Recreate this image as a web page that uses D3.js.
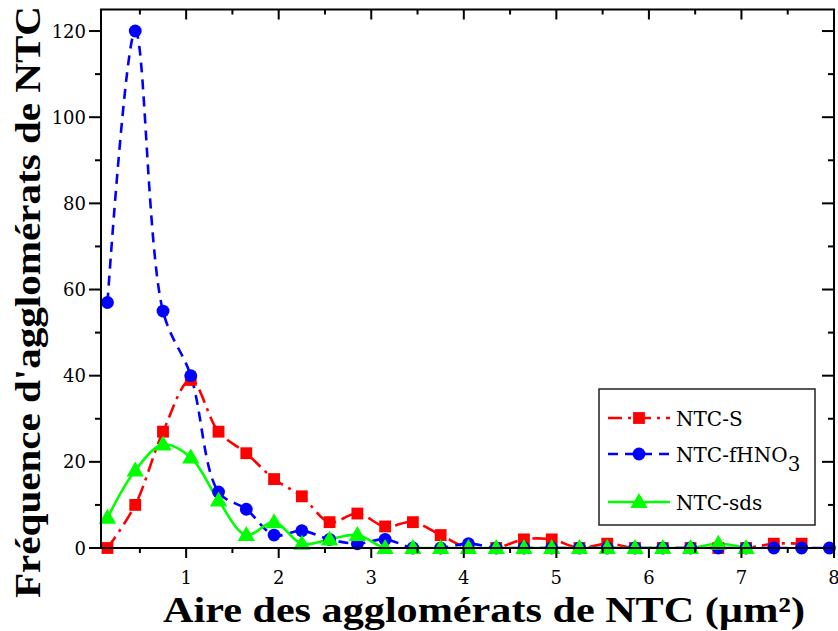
<!DOCTYPE html>
<html>
<head>
<meta charset="utf-8">
<script src="https://cdn.jsdelivr.net/npm/d3@7"></script>
<style>
body { margin: 0; background: #fff; }
svg { display: block; }
</style>
</head>
<body>
<svg id="chart"></svg>
<script>
// x positions (µm²) of the histogram bins
var xBins = [0.15, 0.45, 0.75, 1.05, 1.35, 1.65, 1.95, 2.25, 2.55, 2.85, 3.15, 3.45, 3.75, 4.05,
             4.35, 4.65, 4.95, 5.25, 5.55, 5.85, 6.15, 6.45, 6.75, 7.05, 7.35, 7.65, 7.95];
var ntcS    = [0, 10, 27, 39, 27, 22, 16, 12, 6, 8, 5, 6, 3, 0, 0, 2, 2, 0, 1, 0, 0, 0, 0, 0, 1, 1];
var ntcHNO3 = [57, 120, 55, 40, 13, 9, 3, 4, 2, 1, 2, 0, 0, 1, 0, 0, 0, 0, 0, 0, 0, 0, 0, 0, 0, 0, 0];
var ntcSds  = [7, 18, 24, 21, 11, 3, 6, 1, 2, 3, 0, 0, 0, 0, 0, 0, 0, 0, 0, 0, 0, 0, 1, 0];
var xTicks = [1, 2, 3, 4, 5, 6, 7, 8];
var yTicks = [0, 20, 40, 60, 80, 100, 120];

var serif = '"Liberation Serif", "DejaVu Serif", serif';
var serifLight = '"DejaVu Serif", serif';
var W = 838, H = 631;
var svg = d3.select('#chart').attr('width', W).attr('height', H);

var x = d3.scaleLinear().domain([0.08, 8]).range([101, 834]);
var y = d3.scaleLinear().domain([0, 125]).range([548, 9.5]);

var series = [
    {name: 'NTC-S', values: ntcS, color: '#ff0000', dash: '14,6,3,6', shape: 'square'},
    {name: 'NTC-fHNO', sub: '3', values: ntcHNO3, color: '#0000ff', dash: '10,7', shape: 'circle'},
    {name: 'NTC-sds', values: ntcSds, color: '#00ff00', dash: null, shape: 'triangle'}
];

svg.append('clipPath').attr('id', 'plotclip').append('rect')
    .attr('x', 101).attr('y', 9.5).attr('width', 733).attr('height', 538.5);

var line = d3.line()
    .x(function(d) { return x(d[0]); })
    .y(function(d) { return y(d[1]); })
    .curve(d3.curveCatmullRom.alpha(0.5));

var symbolFor = function(shape) {
    if (shape === 'square') return d3.symbol().type(d3.symbolSquare).size(140)();
    if (shape === 'circle') return d3.symbol().type(d3.symbolCircle).size(130)();
    return d3.symbol().type(d3.symbolTriangle).size(130)();
};

var plot = svg.append('g').attr('clip-path', 'url(#plotclip)');
series.forEach(function(s) {
    var pts = s.values.map(function(v, i) { return [xBins[i], v]; });
    plot.append('path').attr('d', line(pts))
        .attr('fill', 'none').attr('stroke', s.color).attr('stroke-width', 2.6)
        .attr('stroke-dasharray', s.dash);
});
series.forEach(function(s) {
    var pts = s.values.map(function(v, i) { return [xBins[i], v]; });
    svg.append('g').selectAll('path').data(pts).enter().append('path')
        .attr('transform', function(d) { return 'translate(' + x(d[0]) + ',' + (y(d[1]) + (s.shape === 'triangle' ? 1 : 0)) + ')'; })
        .attr('d', symbolFor(s.shape))
        .attr('fill', s.color);
});

// frame and ticks
var axes = svg.append('g').attr('stroke', '#000').attr('stroke-width', 2);
axes.append('rect').attr('x', 101).attr('y', 9.5).attr('width', 733).attr('height', 538.5).attr('fill', 'none');

d3.range(0.5, 8.01, 0.5).forEach(function(v) {
    var major = Math.abs(v - Math.round(v)) < 1e-6;
    var len = major ? 10 : 5;
    axes.append('line').attr('x1', x(v)).attr('x2', x(v)).attr('y1', 548).attr('y2', 548 + len);
    axes.append('line').attr('x1', x(v)).attr('x2', x(v)).attr('y1', 9.5).attr('y2', 9.5 + len);
});
d3.range(0, 121, 10).forEach(function(v) {
    var major = v % 20 === 0;
    var len = major ? 12 : 6;
    axes.append('line').attr('x1', 101).attr('x2', 101 - len).attr('y1', y(v)).attr('y2', y(v));
    axes.append('line').attr('x1', 834).attr('x2', 834 - len).attr('y1', y(v)).attr('y2', y(v));
});

svg.append('g').selectAll('text').data(xTicks).enter().append('text')
    .attr('font-family', serifLight).attr('font-size', 18)
    .attr('x', function(d) { return x(d); }).attr('y', 584)
    .attr('text-anchor', 'middle').text(function(d) { return d; });
svg.append('g').selectAll('text').data(yTicks).enter().append('text')
    .attr('font-family', serifLight).attr('font-size', 18)
    .attr('x', 86).attr('y', function(d) { return y(d) + 6.5; })
    .attr('text-anchor', 'end').text(function(d) { return d; });

svg.append('text').attr('font-family', serif).attr('font-weight', 'bold').attr('font-size', 35)
    .attr('x', 484).attr('y', 622).attr('text-anchor', 'middle')
    .attr('textLength', 642).attr('lengthAdjust', 'spacingAndGlyphs')
    .text('Aire des agglomérats de NTC (µm²)');
svg.append('text').attr('font-family', serif).attr('font-weight', 'bold').attr('font-size', 35)
    .attr('transform', 'translate(40,302) rotate(-90)').attr('text-anchor', 'middle')
    .attr('textLength', 592).attr('lengthAdjust', 'spacingAndGlyphs')
    .text("Fréquence d'agglomérats de NTC");

// legend
var legend = svg.append('g');
legend.append('rect').attr('x', 599).attr('y', 389).attr('width', 216).attr('height', 136)
    .attr('fill', '#fff').attr('stroke', '#222').attr('stroke-width', 1.5);
var legendY = [418, 454, 502];
series.forEach(function(s, i) {
    var ly = legendY[i];
    legend.append('line').attr('x1', 608).attr('x2', 670).attr('y1', ly).attr('y2', ly)
        .attr('stroke', s.color).attr('stroke-width', 2.6).attr('stroke-dasharray', s.dash);
    legend.append('path').attr('transform', 'translate(639,' + (ly + (s.shape === 'triangle' ? 1 : 0)) + ')')
        .attr('d', symbolFor(s.shape)).attr('fill', s.color);
    var t = legend.append('text').attr('font-family', serifLight).attr('font-size', 20)
        .attr('x', 676).attr('y', ly + 8).text(s.name);
    if (s.sub) t.append('tspan').attr('dy', 9).text(s.sub);
});
</script>
</body>
</html>
